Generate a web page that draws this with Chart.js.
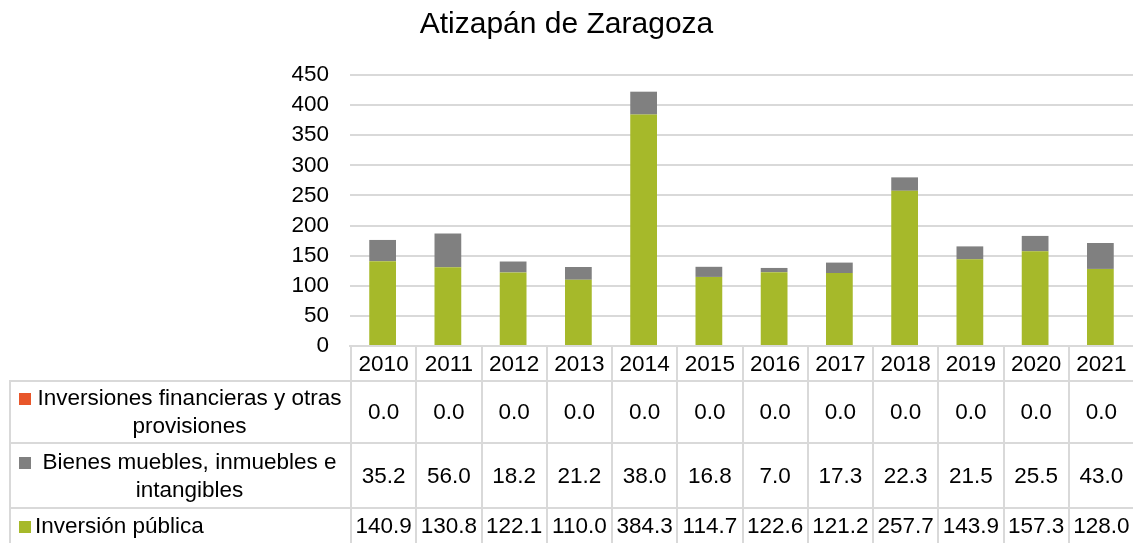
<!DOCTYPE html>
<html lang="es">
<head>
<meta charset="utf-8">
<title>Atizapán de Zaragoza</title>
<script src="https://cdn.jsdelivr.net/npm/chart.js@4"></script>
<style>
    body { margin: 0; background: #fff; font-family: "Liberation Sans", Arial, sans-serif; }
    #contenedor { position: relative; width: 1133px; height: 543px; overflow: hidden; }
    #grafico { position: absolute; left: 0; top: 0; }
    #tabla-datos { position: absolute; border-collapse: collapse; table-layout: fixed; font-size: 22.5px; color: #000; }
    #tabla-datos td { border: 2px solid #D9D9D9; text-align: center; padding: 0; white-space: nowrap; }
    #tabla-datos td.etiqueta { white-space: normal; text-align: left; padding: 0 6px 0 8px; }
    #tabla-datos td.vacia { border-top: none; border-left: none; }
    .serie { display: flex; align-items: flex-start; line-height: 28px; }
    .marcador { flex: 0 0 12px; height: 12px; margin: 9px 4px 0 0; }
    .texto { flex: 1; text-align: center; }
</style>
</head>
<body>
<div id="contenedor">
    <canvas id="grafico" width="1133" height="543"></canvas>
    <table id="tabla-datos"></table>
</div>
<script>
const anios = ['2010', '2011', '2012', '2013', '2014', '2015', '2016', '2017', '2018', '2019', '2020', '2021'];
const inversionPublica = [140.9, 130.8, 122.1, 110.0, 384.3, 114.7, 122.6, 121.2, 257.7, 143.9, 157.3, 128.0];
const bienesMuebles = [35.2, 56.0, 18.2, 21.2, 38.0, 16.8, 7.0, 17.3, 22.3, 21.5, 25.5, 43.0];
const inversionesFinancieras = [0, 0, 0, 0, 0, 0, 0, 0, 0, 0, 0, 0];

document.addEventListener('DOMContentLoaded', () => {
    const tabla = document.getElementById('tabla-datos');

    // orden de apilado: verde abajo, gris, naranja arriba
    const series = [
        { label: 'Inversión pública', data: inversionPublica, color: '#A6B92A' },
        { label: 'Bienes muebles, inmuebles e intangibles', data: bienesMuebles, color: '#808080' },
        { label: 'Inversiones financieras y otras provisiones', data: inversionesFinancieras, color: '#E8562A' }
    ];

    const ctx = document.getElementById('grafico').getContext('2d');
    const chart = new Chart(ctx, {
        type: 'bar',
        data: {
            labels: anios,
            datasets: series.map(s => ({
                label: s.label,
                data: s.data,
                backgroundColor: s.color,
                borderWidth: 0,
                barPercentage: 0.41,
                categoryPercentage: 1
            }))
        },
        options: {
            responsive: false,
            animation: false,
            devicePixelRatio: 1,
            plugins: {
                legend: { display: false },
                tooltip: { enabled: false },
                title: {
                    display: true,
                    text: 'Atizapán de Zaragoza',
                    color: '#000',
                    font: { family: '"Liberation Sans", Arial, sans-serif', size: 30, weight: 'normal', lineHeight: 1.2 },
                    padding: { top: 7, bottom: 32 }
                }
            },
            scales: {
                x: {
                    stacked: true,
                    ticks: { display: false },
                    grid: { display: false },
                    border: { display: true, color: '#D9D9D9', width: 2 },
                    afterFit: (scale) => { scale.height = 197; }
                },
                y: {
                    stacked: true,
                    min: 0,
                    max: 450,
                    ticks: {
                        stepSize: 50,
                        padding: 21,
                        color: '#000',
                        font: { family: '"Liberation Sans", Arial, sans-serif', size: 22.5 }
                    },
                    grid: { color: '#D9D9D9', lineWidth: 2, drawTicks: false },
                    border: { display: false },
                    afterFit: (scale) => { scale.width = 350; }
                }
            }
        }
    });

    // tabla de datos alineada con las categorías del eje x
    const ejeX = chart.scales.x;
    const anchoCategoria = (ejeX.right - ejeX.left) / anios.length;
    const izquierda = 9;

    let html = '<colgroup><col style="width:' + (ejeX.left - izquierda) + 'px">';
    anios.forEach(() => { html += '<col style="width:' + anchoCategoria + 'px">'; });
    html += '</colgroup>';

    html += '<tr style="height:35px"><td class="vacia"></td>';
    anios.forEach(a => { html += '<td>' + a + '</td>'; });
    html += '</tr>';

    const filas = [
        { serie: series[2], alto: 62, centrado: true },
        { serie: series[1], alto: 65, centrado: true },
        { serie: series[0], alto: 36, centrado: false }
    ];
    filas.forEach(f => {
        html += '<tr style="height:' + f.alto + 'px"><td class="etiqueta"><div class="serie">' +
            '<span class="marcador" style="background:' + f.serie.color + '"></span>' +
            '<span class="texto" style="text-align:' + (f.centrado ? 'center' : 'left') + '">' + f.serie.label + '</span>' +
            '</div></td>';
        f.serie.data.forEach(v => { html += '<td>' + v.toFixed(1) + '</td>'; });
        html += '</tr>';
    });

    tabla.innerHTML = html;
    tabla.style.left = izquierda + 'px';
    tabla.style.top = (ejeX.top - 1) + 'px';
    tabla.style.width = (ejeX.right - izquierda) + 'px';
});
</script>
</body>
</html>
